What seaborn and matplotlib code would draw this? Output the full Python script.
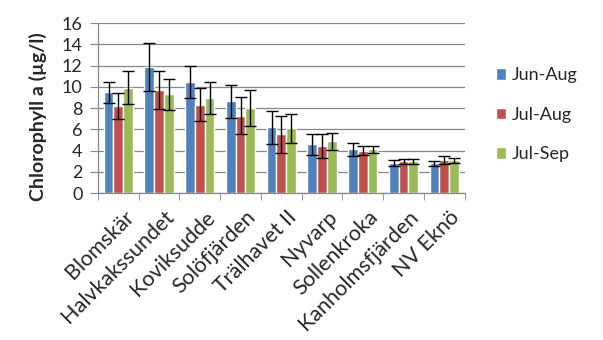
import numpy as np
import pandas as pd
import matplotlib
matplotlib.use("Agg")
import matplotlib.pyplot as plt
import matplotlib.transforms as mtransforms
import seaborn as sns

stations = ["Blomskär", "Halvkakssundet", "Koviksudde", "Solöfjärden", "Trälhavet II",
            "Nyvarp", "Sollenkroka", "Kanholmsfjärden", "NV Eknö"]
periods = ["Jun-Aug", "Jul-Aug", "Jul-Sep"]
jun_aug = [9.5, 11.85, 10.45, 8.65, 6.2, 4.6, 4.13, 2.8, 2.8]
jul_aug = [8.2, 9.7, 8.3, 7.3, 5.55, 4.42, 3.97, 3.0, 3.15]
jul_sep = [9.9, 9.3, 8.95, 8.0, 6.1, 4.88, 4.13, 3.0, 3.1]
err_jun_aug = [1.0, 2.25, 1.5, 1.55, 1.55, 1.0, 0.6, 0.28, 0.26]
err_jul_aug = [1.2, 1.8, 1.55, 1.7, 1.75, 1.1, 0.42, 0.22, 0.38]
err_jul_sep = [1.55, 1.45, 1.55, 1.67, 1.37, 0.82, 0.33, 0.22, 0.24]
colors = ["#4F81BD", "#C0504D", "#9BBB59"]

df = pd.DataFrame({
    "station": stations * 3,
    "period": np.repeat(periods, len(stations)),
    "value": jun_aug + jul_aug + jul_sep,
    "err": err_jun_aug + err_jul_aug + err_jul_sep,
})

sns.set_style("white")
plt.rcParams["font.family"] = ["Lato", "DejaVu Sans"]

fig = plt.figure(figsize=(6.03, 3.4), dpi=100)
ax = fig.add_axes([0.1625, 0.432, 0.608, 0.5])

sns.barplot(data=df, x="station", y="value", hue="period", order=stations,
            hue_order=periods, palette=colors, width=0.72, errorbar=None,
            saturation=1, ax=ax, zorder=2)

errs = [err_jun_aug, err_jul_aug, err_jul_sep]
for cont, e in zip(ax.containers, errs):
    xs = [p.get_x() + p.get_width() / 2 for p in cont]
    ys = [p.get_height() for p in cont]
    ax.errorbar(xs, ys, yerr=e, fmt="none", ecolor="black", elinewidth=1,
                capsize=4, capthick=1, zorder=3)

ax.set_ylim(0, 16)
ax.set_yticks(range(0, 17, 2))
ax.set_xlim(-0.5, len(stations) - 0.5)
ax.yaxis.grid(True, color="#878787", linewidth=0.9, zorder=0)
ax.set_axisbelow(True)
for s in ["top", "right"]:
    ax.spines[s].set_visible(False)
for s in ["left", "bottom"]:
    ax.spines[s].set_color("#878787")
    ax.spines[s].set_linewidth(0.9)

ax.set_xticks(np.arange(-0.5, len(stations), 1), minor=True)
ax.tick_params(axis="x", which="major", length=0, pad=10, labelsize=15.5)
ax.tick_params(axis="x", which="minor", length=5, color="#878787", direction="out", bottom=True)
ax.tick_params(axis="y", length=6, color="#878787", direction="out", left=True, labelsize=13, pad=5)
offset = mtransforms.ScaledTranslation(5 / 100, 0, fig.dpi_scale_trans)
for lab in ax.get_xticklabels():
    lab.set_rotation(45)
    lab.set_ha("right")
    lab.set_rotation_mode("anchor")
    lab.set_transform(lab.get_transform() + offset)

ax.set_xlabel("")
ax.set_ylabel("Chlorophyll a (µg/l)", fontsize=14, fontweight="bold")
ax.yaxis.set_label_coords(-0.14, 0.45)

ax.legend(loc="center left", bbox_to_anchor=(1.04, 0.46), frameon=False, fontsize=13,
          labelspacing=1.3, handlelength=0.6, handleheight=0.6, handletextpad=0.3)

fig.savefig("out.png", dpi=100)
